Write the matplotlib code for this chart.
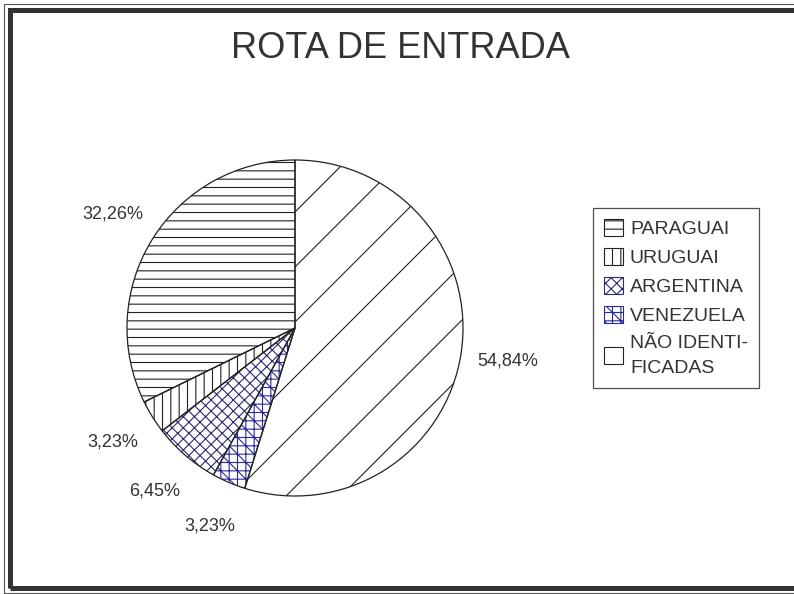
import numpy as np

import matplotlib
matplotlib.use('Agg')
import matplotlib.pyplot as plt
from matplotlib.patches import Patch, Rectangle
from matplotlib.lines import Line2D

# data (clockwise from 12 o'clock)
routes = ['NÃO IDENTI-\nFICADAS', 'VENEZUELA', 'ARGENTINA', 'URUGUAI', 'PARAGUAI']
shares = [54.84, 3.23, 6.45, 3.23, 32.26]
hatches = [None, '++\\\\', 'xxx', '||', '--']
hatch_colors = ['#222222', '#2a2aa0', '#2a2a70', '#222222', '#222222']
title = 'ROTA DE ENTRADA'

plt.rcParams['font.family'] = ['Liberation Sans', 'DejaVu Sans']
plt.rcParams['hatch.linewidth'] = 0.8
txt = '#333333'

W, H, dpi = 794, 594, 100
fig = plt.figure(figsize=(W / dpi, H / dpi), dpi=dpi)

# pie axes placed in pixel terms
cx, cy, R = 295, 328, 168
pad = 1.35
ax = fig.add_axes([(cx - R * pad) / W, (H - cy - R * pad) / H, 2 * R * pad / W, 2 * R * pad / H])
ax.axis('off')

pct_labels = iter(f'{v:.2f}%'.replace('.', ',') for v in shares)
wedges, _, autotexts = ax.pie(
    shares, startangle=90, counterclock=False, radius=1,
    autopct=lambda p: next(pct_labels), pctdistance=1.28,
    wedgeprops=dict(facecolor='white', linewidth=0),
    textprops=dict(fontsize=13, color=txt))
for w, h, c in zip(wedges, hatches, hatch_colors):
    if h:
        w.set_hatch(h)
        w.set_edgecolor(c)

# sparse diagonal lines in the large slice
step = 55 / R
off = (328 - 212) / R
for c in np.arange(off - 6 * step, off + 6 * step, step):
    ln = Line2D([-1.2, 1.2], [-1.2 + c, 1.2 + c], color='#222222', lw=0.8)
    ax.add_line(ln)
    ln.set_clip_path(wedges[0])

# outlines on top
ax.pie(shares, startangle=90, counterclock=False, radius=1,
       wedgeprops=dict(fill=False, edgecolor='#222222', linewidth=0.9))
ax.set_xlim(-pad, pad)
ax.set_ylim(-pad, pad)
ax.set_aspect('equal')

# legend
handles = []
for lab, h, c in list(zip(routes, hatches, hatch_colors))[::-1]:
    handles.append(Patch(facecolor='white', edgecolor=c, hatch=h, linewidth=0.8, label=lab))
leg = fig.legend(handles=handles, loc='upper left',
                 bbox_to_anchor=(593 / W, 1 - 208 / H), borderaxespad=0,
                 fontsize=14, labelcolor=txt, frameon=True, fancybox=False,
                 handlelength=1.0, handleheight=1.0, handletextpad=0.35,
                 labelspacing=0.5, borderpad=0.55)
leg.get_texts()[-1].set_linespacing(1.6)
leg.get_frame().set_edgecolor('#222222')
leg.get_frame().set_linewidth(0.9)

fig.text(400 / W, 1 - 48 / H, title, ha='center', va='center', fontsize=26, color=txt)

# double frame
fig.add_artist(Rectangle((9.5 / W, (H - 587.5) / H), 1.0, (587.5 - 10) / H,
                         transform=fig.transFigure, fill=False,
                         edgecolor='#333333', linewidth=3.6))
fig.add_artist(Rectangle((3.5 / W, (H - 592.5) / H), 1.0, (592.5 - 3.5) / H,
                         transform=fig.transFigure, fill=False,
                         edgecolor='#555555', linewidth=0.8))

fig.savefig('out.png', dpi=dpi)
plt.close(fig)
